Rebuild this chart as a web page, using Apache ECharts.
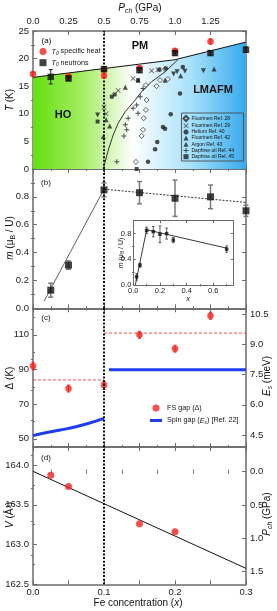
<!DOCTYPE html>
<html><head><meta charset="utf-8">
<script src="https://cdn.jsdelivr.net/npm/echarts@6/dist/echarts.min.js"></script>
<style>html,body{margin:0;padding:0;background:#fff}#c{width:277px;height:611px}</style>
</head><body><div id="c"></div>
<script>
// ---------------- DATA ----------------
const feBoundaryX = 0.1;
// panel (a)
const heatX = [0, 0.05, 0.1, 0.1, 0.15, 0.2, 0.25];
const heatT = [17.2, 16.8, 16.9, 18.0, 18.3, 21.4, 23.1];
const heatErr = [0.4, 0.3, 0.4, 0.3, 0.3, 0.4, 0.5];
const neutX = [0.025, 0.05, 0.1, 0.15, 0.2, 0.25, 0.3];
const neutT = [16.7, 16.4, 18.1, 17.9, 21.0, 21.0, 21.6];
const neutErr = [1.3, 0.4, 0.4, 0.4, 0.4, 0.4, 0.5];
const boundX = [0, 0.1, 0.2, 0.3];
const boundT = [16.6, 18.2, 19.8, 23.0];
const hoX = [0.099, 0.106, 0.113, 0.120, 0.130, 0.144, 0.153, 0.167, 0.186, 0.204];
const hoT = [0, 3.4, 6.2, 8.3, 10.4, 12.5, 14.0, 15.8, 17.6, 19.8];
const ref28 = [[0.145,1.3],[0.153,6.0],[0.155,7.1],[0.156,9.2],[0.159,10.7],[0.160,12.5],[0.159,15.2],[0.174,15.0],[0.179,16.1],[0.190,16.3],[0.186,18.1]];
const ref29 = [[0.100,11.2],[0.103,10.0],[0.120,14.2],[0.141,16.4],[0.167,17.8],[0.176,18.0]];
const ref40 = [[0.162,1.3],[0.172,3.6],[0.175,4.9],[0.183,7.6],[0.186,7.3],[0.194,9.9],[0.207,13.7],[0.187,18.2],[0.211,18.5]];
const ref42 = [[0.091,9.8],[0.198,17.2],[0.203,17.6],[0.214,17.7],[0.240,17.8]];
const ref43 = [[0.099,5.9],[0.103,8.9],[0.108,7.8],[0.130,14.8],[0.148,16.1],[0.186,16.1],[0.208,16.9],[0.255,18.1]];
const ref44 = [[0.118,1.3],[0.128,6.0],[0.132,7.1],[0.130,8.0],[0.134,9.2],[0.148,10.1],[0.141,11.0],[0.146,11.6],[0.151,13.1],[0.155,14.6]];
const ref45 = [[0.091,8.6],[0.111,13.1],[0.115,13.5],[0.148,16.1],[0.146,0.0],[0.178,18.0]];
const refNames = ['Fluorinert Ref. 28','Fluorinert Ref. 29','Helium Ref. 40','Fluorinert Ref. 42','Argon Ref. 43','Daphine oil Ref. 44','Daphine oil Ref. 45'];
const tTicks = [0, 5, 10, 15, 20, 25];
const pTickX = [0, 0.05, 0.1, 0.15, 0.2, 0.25];
const pTickLabels = ['0.0', '0.25', '0.5', '0.75', '1.0', '1.25'];
// panel (b)
const mX = [0.025, 0.05, 0.1, 0.15, 0.2, 0.25, 0.3];
const mVal = [0.13, 0.31, 0.85, 0.83, 0.79, 0.80, 0.70];
const mErr = [0.05, 0.03, 0.05, 0.08, 0.13, 0.085, 0.04];
const mRiseX = [0.0155, 0.1], mRiseY = [0.05, 0.855];
const mFallX = [0.1, 0.3], mFallY = [0.855, 0.76];
const mTicks = [0, 0.2, 0.4, 0.6, 0.8];
// inset
const inX = [0.025, 0.05, 0.1, 0.15, 0.2, 0.25, 0.3, 0.7];
const inM = [0.13, 0.31, 0.85, 0.83, 0.79, 0.80, 0.70, 0.56];
const inErr = [0.05, 0.03, 0.05, 0.08, 0.13, 0.085, 0.04, 0.05];
const inLineX = [0.015, 0.1, 0.7], inLineY = [0, 0.86, 0.575];
const inXTicks = [0, 0.2, 0.4, 0.6], inYTicks = [0, 0.4, 0.8];
// panel (c)
const gapX = [0, 0.05, 0.1, 0.15, 0.2, 0.25];
const gapVal = [92, 79, 81, 110, 102, 121];
const gapErr = [2.2, 2, 2.5, 2, 2, 2];
const gapMeanLoX = [0, 0.1], gapMeanLo = [84, 84];
const gapMeanHiX = [0.1, 0.3], gapMeanHi = [111, 111];
const spinX = [0, 0.025, 0.05, 0.075, 0.1], spinE = [4.47, 4.66, 4.83, 5.05, 5.33];
const spinHiX = [0.107, 0.3], spinHiE = [7.75, 7.75];
const dTicks = [50, 70, 90, 110];
const eTicks = [4.5, 6.0, 7.5, 9.0, 10.5];
// panel (d)
const volX = [0.025, 0.05, 0.15, 0.2];
const volV = [163.87, 163.73, 163.26, 163.16];
const volFitX = [0, 0.3], volFitV = [163.92, 162.70];
const vTicks = [162.5, 163.0, 163.5, 164.0];
const pchTicks = [0, 0.5, 1.0, 1.5];
const xTicksBottom = [0, 0.1, 0.2, 0.3];

// ---------------- HELPERS ----------------
const FF = '"Liberation Sans", Arial, sans-serif';
const AX = '#6a6a6a';
const RED = '#f5231e', BLUE = '#1f3cf0';
const zip = (a, b) => a.map((v, i) => [v, b[i]]);
const fmt1 = v => (+v).toFixed(1);
const xAxes = [], yAxes = [];
function axis(list, o) {
  const base = {type: 'value', gridIndex: o.g, position: o.pos, min: o.min, max: o.max, inverse: !!o.inv,
    splitLine: {show: false}, z: o.z || 0};
  const tl = o.tl || 4;
  list.push(Object.assign({}, base, {
    axisLine: {show: true, onZero: false, lineStyle: {color: AX, width: o.lw || 1.5}},
    axisTick: {show: true, inside: true, length: tl, customValues: o.major, lineStyle: {color: AX, width: 1}},
    axisLabel: o.labels ? {show: true, customValues: o.labels, formatter: o.fmt || (v => String(v)),
      fontSize: o.fs || 9.5, fontFamily: FF, color: '#222', margin: o.margin || 4} : {show: false}
  }));
  const idx = list.length - 1;
  if (o.minor) list.push(Object.assign({}, base, {
    axisLine: {show: false},
    axisTick: {show: true, inside: true, length: tl / 2, customValues: o.minor, lineStyle: {color: AX, width: 1}},
    axisLabel: {show: false}
  }));
  return idx;
}
const xMaj = [0, 0.05, 0.1, 0.15, 0.2, 0.25, 0.3];
const xMin = [0.025, 0.075, 0.125, 0.175, 0.225, 0.275];
function xPair(g, bottomLabels, topLabels, topFmt) {
  const b = axis(xAxes, {g, pos: 'bottom', min: 0, max: 0.3, major: xMaj, minor: xMin, labels: bottomLabels, fmt: fmt1, margin: 3});
  axis(xAxes, {g, pos: 'top', min: 0, max: 0.3, major: xMaj, minor: xMin, labels: topLabels, fmt: topFmt, margin: 5});
  return b;
}
function errSeries(xs, ys, es, color, cap, lw, xi, yi, z) {
  return {type: 'custom', xAxisIndex: xi, yAxisIndex: yi, silent: true, z: z || 3,
    data: xs.map((x, i) => [x, ys[i] - es[i], ys[i] + es[i]]),
    encode: {x: 0, y: [1, 2]},
    renderItem: (p, api) => {
      const lo = api.coord([api.value(0), api.value(1)]);
      const hi = api.coord([api.value(0), api.value(2)]);
      const st = {stroke: color, lineWidth: lw};
      return {type: 'group', children: [
        {type: 'line', shape: {x1: lo[0], y1: lo[1], x2: hi[0], y2: hi[1]}, style: st},
        {type: 'line', shape: {x1: lo[0] - cap, y1: lo[1], x2: lo[0] + cap, y2: lo[1]}, style: st},
        {type: 'line', shape: {x1: hi[0] - cap, y1: hi[1], x2: hi[0] + cap, y2: hi[1]}, style: st}
      ]};
    }};
}
function vDotted(xi, yi, y0, y1) {
  return {type: 'line', xAxisIndex: xi, yAxisIndex: yi, data: [[feBoundaryX, y0], [feBoundaryX, y1]],
    symbol: 'none', silent: true, z: 8, lineStyle: {color: '#111', width: 2, type: [2, 1.6]}};
}
function lineS(xi, yi, xs, ys, color, width, type, z) {
  return {type: 'line', xAxisIndex: xi, yAxisIndex: yi, data: zip(xs, ys), symbol: 'none', silent: true,
    z: z || 3, lineStyle: {color, width, type: type || 'solid'}};
}
function rich(fs) {
  return {
    n: {fontSize: fs, fontFamily: FF, color: '#111', lineHeight: fs * 1.3},
    i: {fontSize: fs, fontFamily: FF, fontStyle: 'italic', color: '#111', lineHeight: fs * 1.3},
    s: {fontSize: fs * 0.68, fontFamily: FF, color: '#111', lineHeight: fs * 0.7, verticalAlign: 'bottom'},
    si: {fontSize: fs * 0.68, fontFamily: FF, fontStyle: 'italic', color: '#111', lineHeight: fs * 0.7, verticalAlign: 'bottom'},
    b: {fontSize: fs, fontFamily: FF, fontWeight: 'bold', color: '#111', lineHeight: fs * 1.3}
  };
}

// ---------------- AXES ----------------
const grid = [
  {left: 33, top: 31, width: 213, height: 138},
  {left: 33, top: 169, width: 213, height: 139.3},
  {left: 33, top: 308.3, width: 213, height: 138.7},
  {left: 33, top: 447, width: 213, height: 137.3},
  {left: 133.3, top: 220.7, width: 100, height: 64.5, show: true, backgroundColor: '#fff', borderWidth: 0, z: 5}
];
// (a)
const xa = xPair(0, null, pTickX, v => pTickLabels[Math.round(v / 0.05)]);
const ya = axis(yAxes, {g: 0, pos: 'left', min: 0, max: 25, major: tTicks, minor: [2.5, 7.5, 12.5, 17.5, 22.5], labels: tTicks});
axis(yAxes, {g: 0, pos: 'right', min: 0, max: 25, major: tTicks, minor: [2.5, 7.5, 12.5, 17.5, 22.5]});
// (b)
const xb = xPair(1, null, null);
const yb = axis(yAxes, {g: 1, pos: 'left', min: 0, max: 1.0, major: [0, 0.2, 0.4, 0.6, 0.8, 1.0], minor: [0.1, 0.3, 0.5, 0.7, 0.9], labels: mTicks, fmt: fmt1});
axis(yAxes, {g: 1, pos: 'right', min: 0, max: 1.0, major: [0, 0.2, 0.4, 0.6, 0.8, 1.0], minor: [0.1, 0.3, 0.5, 0.7, 0.9]});
// (c)
const xc = xPair(2, null, null);
const yc = axis(yAxes, {g: 2, pos: 'left', min: 45.3, max: 125.3, major: dTicks, minor: [60, 80, 100, 120], labels: dTicks});
const ycr = axis(yAxes, {g: 2, pos: 'right', min: 3.905, max: 10.80, major: eTicks, minor: [5.25, 6.75, 8.25, 9.75], labels: eTicks, fmt: fmt1});
// (d)
const xd = xPair(3, xTicksBottom, null);
const yd = axis(yAxes, {g: 3, pos: 'left', min: 162.5, max: 164.226, major: vTicks, minor: [162.75, 163.25, 163.75], labels: vTicks, fmt: fmt1});
axis(yAxes, {g: 3, pos: 'right', min: -0.37, max: 1.69, inv: true, major: pchTicks, minor: [-0.25, 0.25, 0.75, 1.25], labels: pchTicks, fmt: fmt1});
// inset
const xi = axis(xAxes, {g: 4, pos: 'bottom', min: 0, max: 0.75, major: inXTicks, minor: [0.1, 0.3, 0.5, 0.7], labels: inXTicks, fmt: fmt1, fs: 7.5, margin: 2, tl: 2.5, lw: 1, z: 6});
axis(xAxes, {g: 4, pos: 'top', min: 0, max: 0.75, major: inXTicks, minor: [0.1, 0.3, 0.5, 0.7], tl: 2.5, lw: 1, z: 6});
const yi = axis(yAxes, {g: 4, pos: 'left', min: 0, max: 1.0, major: inYTicks, minor: [0.2, 0.6], labels: inYTicks, fmt: fmt1, fs: 7.5, margin: 2, tl: 2.5, lw: 1, z: 6});
axis(yAxes, {g: 4, pos: 'right', min: 0, max: 1.0, major: inYTicks, minor: [0.2, 0.6], tl: 2.5, lw: 1, z: 6});

// ---------------- SERIES ----------------
const series = [];
// (a) background phase area
series.push({type: 'line', xAxisIndex: xa, yAxisIndex: ya, data: zip(boundX, boundT), symbol: 'none', silent: true, z: 1,
  lineStyle: {color: '#111', width: 1},
  areaStyle: {opacity: 1, color: new echarts.graphic.LinearGradient(0, 0, 1, 0, [
    {offset: 0, color: '#64df10'}, {offset: 0.22, color: '#9fec5c'}, {offset: 0.47, color: '#ffffff'},
    {offset: 0.75, color: '#a4e0fa'}, {offset: 1, color: '#37aaee'}])}});
series.push(lineS(xa, ya, hoX, hoT, '#333', 1, 'solid', 4));
const refStyles = [
  {symbol: 'diamond', size: 5, itemStyle: {color: '#fff', borderColor: '#222', borderWidth: 0.9}},
  {symbol: 'path://M1,0L5,4L9,0L10,1L6,5L10,9L9,10L5,6L1,10L0,9L4,5L0,1Z', size: 5, itemStyle: {color: '#222'}},
  {symbol: 'circle', size: 4.5, itemStyle: {color: '#222'}},
  {symbol: 'triangle', size: 5, rotate: 180, itemStyle: {color: '#222'}},
  {symbol: 'triangle', size: 5, itemStyle: {color: '#222'}},
  {symbol: 'path://M4,0H6V4H10V6H6V10H4V6H0V4H4Z', size: 5, itemStyle: {color: '#222'}},
  {symbol: 'rect', size: 4, itemStyle: {color: '#222'}}
];
[ref28, ref29, ref40, ref42, ref43, ref44, ref45].forEach((d, k) => {
  const s = refStyles[k];
  series.push({type: 'scatter', name: refNames[k], xAxisIndex: xa, yAxisIndex: ya, data: d, z: 5,
    symbol: s.symbol, symbolSize: s.size, symbolRotate: s.rotate || 0, itemStyle: s.itemStyle});
});
series.push(vDotted(xa, ya, 0, 25));
series.push(errSeries(heatX, heatT, heatErr, RED, 1.5, 1, xa, ya, 9));
series.push({type: 'scatter', name: 'heat', xAxisIndex: xa, yAxisIndex: ya, data: zip(heatX, heatT), z: 9,
  symbol: 'circle', symbolSize: 6.5, itemStyle: {color: RED}});
series.push(errSeries(neutX, neutT, neutErr, '#222', 2, 1, xa, ya, 10));
series.push({type: 'scatter', name: 'neut', xAxisIndex: xa, yAxisIndex: ya, data: zip(neutX, neutT), z: 10,
  symbol: 'rect', symbolSize: 6.5, itemStyle: {color: '#111'}});
// (b)
series.push(lineS(xb, yb, mRiseX, mRiseY, '#333', 0.8, 'solid', 3));
series.push(lineS(xb, yb, mFallX, mFallY, '#333', 1, [2, 1.5], 3));
series.push(errSeries(mX, mVal, mErr, '#7a7a7a', 2.5, 1.5, xb, yb, 4));
series.push({type: 'scatter', xAxisIndex: xb, yAxisIndex: yb, data: zip(mX, mVal), z: 5, silent: true,
  symbol: 'rect', symbolSize: 7, itemStyle: {color: '#111'}});
series.push(vDotted(xb, yb, 0, 1.0));
// inset
series.push(lineS(xi, yi, inLineX, inLineY, '#222', 0.9, 'solid', 7));
series.push(errSeries(inX, inM, inErr, '#333', 1.3, 0.8, xi, yi, 7));
series.push({type: 'scatter', xAxisIndex: xi, yAxisIndex: yi, data: zip(inX, inM), z: 8, silent: true,
  symbol: 'rect', symbolSize: 3.5, itemStyle: {color: '#111'}});
// (c)
series.push(lineS(xc, yc, gapMeanLoX, gapMeanLo, RED, 0.8, [3, 2], 3));
series.push(lineS(xc, yc, gapMeanHiX, gapMeanHi, RED, 0.8, [3, 2], 3));
series.push({type: 'line', name: 'Spin gap', xAxisIndex: xc, yAxisIndex: ycr, data: zip(spinX, spinE), symbol: 'none',
  smooth: true, z: 4, lineStyle: {color: BLUE, width: 3}, itemStyle: {color: BLUE}});
series.push({type: 'line', name: 'Spin gap', xAxisIndex: xc, yAxisIndex: ycr, data: zip(spinHiX, spinHiE), symbol: 'none',
  z: 4, lineStyle: {color: BLUE, width: 3}, itemStyle: {color: BLUE}});
series.push(errSeries(gapX, gapVal, gapErr, RED, 1.5, 1, xc, yc, 5));
series.push({type: 'scatter', name: 'FS gap', xAxisIndex: xc, yAxisIndex: yc, data: zip(gapX, gapVal), z: 6,
  symbol: 'circle', symbolSize: 6.5, itemStyle: {color: RED}});
series.push(vDotted(xc, yc, 45.3, 125.3));
// (d)
series.push(lineS(xd, yd, volFitX, volFitV, '#111', 1, 'solid', 3));
series.push({type: 'scatter', xAxisIndex: xd, yAxisIndex: yd, data: zip(volX, volV), z: 5, silent: true,
  symbol: 'circle', symbolSize: 7, itemStyle: {color: RED}});
series.push(vDotted(xd, yd, 162.5, 164.226));

// ---------------- LEGENDS ----------------
const R7 = rich(7.2), R10 = rich(10), R8 = rich(8);
const legend = [
  {data: refNames, left: 182.5, top: 115, orient: 'vertical', itemWidth: 5, itemHeight: 5, itemGap: 1.2,
   selectedMode: false, padding: 0, textStyle: {fontSize: 5, fontFamily: FF, color: '#111', padding: [0, 0, 0, -2]}},
  {data: ['heat', 'neut'], left: 39.5, top: 48, orient: 'vertical', itemWidth: 7, itemHeight: 7, itemGap: 3,
   selectedMode: false, padding: 0,
   formatter: n => n === 'heat' ? '{i|T}{si|0}{n| specific heat}' : '{i|T}{si|0}{n| neutrons}',
   textStyle: {fontSize: 7.2, fontFamily: FF, color: '#111', rich: R7}},
  {data: [{name: 'FS gap', icon: 'circle'}, {name: 'Spin gap', icon: 'path://M0,0H40V10H0Z'}],
   left: 150, top: 404.5, orient: 'vertical', itemWidth: 12, itemHeight: 7, itemGap: 5.5,
   selectedMode: false, padding: 0,
   formatter: n => n === 'FS gap' ? '{n|FS gap (Δ)}' : '{n|Spin gap (}{i|E}{si|s}{n|) [Ref. 22]}',
   textStyle: {fontSize: 7.2, fontFamily: FF, color: '#111', rich: R7}}
];

// ---------------- TEXT ----------------
function txt(x, y, text, r, rot) {
  return {type: 'text', x, y, rotation: rot || 0, z: 20, silent: true,
    style: {text, rich: r, align: 'center', verticalAlign: 'middle', fill: '#111'}};
}
const RB = rich(11);
const graphic = [
  txt(140, 8, '{i|P}{si|ch}{n| (GPa)}', R10),
  txt(138, 603.5, '{n|Fe concentration (}{i|x}{n|)}', R10),
  txt(10, 100, '{i|T}{n| (K)}', R10, Math.PI / 2),
  txt(10, 238, '{i|m}{n| (μ}{s|B}{n| / U)}', R10, Math.PI / 2),
  txt(10, 378, '{n|Δ (K)}', R10, Math.PI / 2),
  txt(10, 515, '{i|V}{n| (Å³)}', R10, Math.PI / 2),
  txt(267, 376, '{i|E}{si|s}{n| (meV)}', R10, Math.PI / 2),
  txt(267, 514, '{i|P}{si|ch}{n| (GPa)}', R10, Math.PI / 2),
  txt(121, 253, '{i|m}{n| (μ}{s|B}{n| / U)}', rich(7), Math.PI / 2),
  txt(188, 299, '{i|x}', rich(7.5)),
  txt(46.5, 41, '{n|(a)}', R8),
  txt(46, 183, '{n|(b)}', R8),
  txt(46, 318, '{n|(c)}', R8),
  txt(46, 458, '{n|(d)}', R8),
  txt(140, 46, '{b|PM}', RB),
  txt(63, 115, '{b|HO}', RB),
  txt(213, 90, '{b|LMAFM}', RB),
  {type: 'rect', shape: {x: 181.5, y: 113, width: 62, height: 48}, z: 19, silent: true,
   style: {fill: 'none', stroke: '#4a4a4a', lineWidth: 0.9}}
];

const chart = echarts.init(document.getElementById('c'), null, {width: 277, height: 611});
chart.setOption({animation: false, grid, xAxis: xAxes, yAxis: yAxes, series, legend, graphic});
</script></body></html>
